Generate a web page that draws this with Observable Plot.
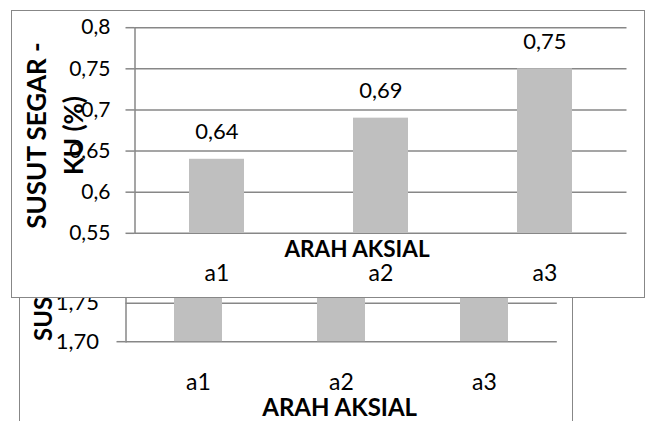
<!DOCTYPE html>
<html>
<head>
<meta charset="utf-8">
<script src="https://cdn.jsdelivr.net/npm/d3@7"></script>
<script src="https://cdn.jsdelivr.net/npm/@observablehq/plot@0.6"></script>
<style>
  html, body { margin: 0; padding: 0; background: #fff; overflow: hidden; }
  #stage { position: relative; width: 647px; height: 421px; overflow: hidden; background: #fff; }
</style>
</head>
<body>
<div id="stage"></div>
<script>
// Susut segar per arah aksial (a1–a3): two overlapping bar panels.
const categories = ["a1", "a2", "a3"];

// front panel: SUSUT SEGAR - KU (%)
const valuesKU = [0.64, 0.69, 0.75];
const ticksKU = [0.55, 0.6, 0.65, 0.7, 0.75, 0.8];

// panel behind it
const valuesBack = [1.81, 1.84, 1.88];
const ticksBack = [1.70, 1.75, 1.80, 1.85, 1.90];

const xTitle = "ARAH AKSIAL";
const yTitleKU = "SUSUT SEGAR -\nKU (%)";
const yTitleBack = "SUSUT SEGAR (%)";

const gridColor = "#878787";
const barColor = "#bfbfbf";
const font = "Lato, 'Open Sans', sans-serif";
const comma = s => s.replace(".", ",");

const dataKU = categories.map((cat, i) => ({cat, value: valuesKU[i]}));
const dataBack = categories.map((cat, i) => ({cat, value: valuesBack[i]}));

function panelStyle(left, top) {
  return {
    position: "absolute", left: left + "px", top: top + "px",
    border: `1.5px solid ${gridColor}`, background: "#fff",
    fontFamily: font, color: "#000", overflow: "visible", maxWidth: "none"
  };
}

// Rear panel (mostly hidden behind the front one)
const back = Plot.plot({
  width: 552, height: 290,
  marginLeft: 105.5, marginRight: 15.2, marginTop: 36.6, marginBottom: 99.8,
  style: panelStyle(19, 150),
  x: {domain: categories, paddingInner: 0.667, paddingOuter: 0.333, label: null},
  y: {domain: [ticksBack[0], ticksBack[ticksBack.length - 1]], label: null},
  marks: [
    Plot.ruleY(ticksBack, {stroke: gridColor, strokeWidth: 1.5}),
    Plot.barY(dataBack, {x: "cat", y1: ticksBack[0], y2: "value", fill: barColor}),
    Plot.frame({anchor: "left", stroke: gridColor, strokeWidth: 1.5}),
    Plot.axisY(ticksBack, {tickSize: 0, tickPadding: 27, fontSize: 22, fill: "#000",
      tickFormat: d => comma(d.toFixed(2)), label: null}),
    Plot.axisY([ticksBack[0]], {tickSize: 9, stroke: gridColor, strokeWidth: 1.5,
      tickFormat: () => "", label: null}),
    Plot.axisX({tickSize: 0, tickPadding: 32, fontSize: 23, fill: "#000", label: null}),
    Plot.text(dataBack, {x: "cat", y: "value", text: d => comma(d.value.toFixed(2)),
      dy: -20, lineAnchor: "bottom", fontSize: 22, fill: "#000"}),
    Plot.text([xTitle], {frameAnchor: "bottom", dx: -2, dy: 74, lineAnchor: "bottom",
      fontSize: 24, fontWeight: "bold", fill: "#000"}),
    Plot.text([yTitleBack], {frameAnchor: "left", rotate: -90, textAnchor: "start",
      lineAnchor: "middle", fontSize: 24, fontWeight: "bold", fill: "#000", dx: -81.5, dy: 76.1})
  ]
});

// Front panel
const front = Plot.plot({
  width: 632, height: 286,
  marginLeft: 122.5, marginRight: 17.5, marginTop: 16.2, marginBottom: 64.2,
  style: panelStyle(11, 10),
  x: {domain: categories, paddingInner: 0.667, paddingOuter: 0.333, label: null},
  y: {domain: [ticksKU[0], ticksKU[ticksKU.length - 1]], label: null},
  marks: [
    Plot.ruleY(ticksKU, {stroke: gridColor, strokeWidth: 1.5}),
    Plot.barY(dataKU, {x: "cat", y1: ticksKU[0], y2: "value", fill: barColor}),
    Plot.frame({anchor: "left", stroke: gridColor, strokeWidth: 1.5}),
    Plot.axisY(ticksKU, {tickSize: 9, tickPadding: 15.5, stroke: gridColor, strokeWidth: 1.5,
      fontSize: 21, fill: "#000", tickFormat: d => comma(String(d)), label: null}),
    Plot.axisX({tickSize: 0, tickPadding: 31.4, fontSize: 23, fill: "#000", label: null}),
    Plot.text(dataKU, {x: "cat", y: "value", text: d => comma(d.value.toFixed(2)),
      dy: -20, lineAnchor: "bottom", fontSize: 22, fill: "#000"}),
    Plot.text([xTitle], {frameAnchor: "bottom", dx: -24, dy: 23.7, lineAnchor: "bottom",
      fontSize: 22.5, fontWeight: "bold", fill: "#000"}),
    Plot.text([yTitleKU], {frameAnchor: "left", rotate: -90, textAnchor: "middle",
      lineAnchor: "middle", lineHeight: 1.42, fontSize: 26, fontWeight: "bold", fill: "#000",
      dx: -82.5, dy: 5})
  ]
});

const stage = document.getElementById("stage");
stage.appendChild(back);
stage.appendChild(front);
</script>
</body>
</html>
